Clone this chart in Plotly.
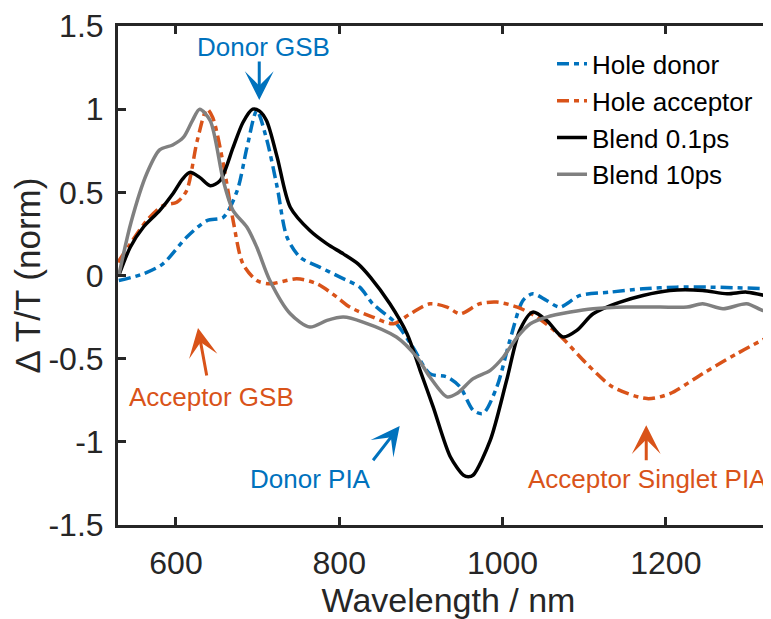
import plotly.graph_objects as go

# ---------------- data ----------------
donor_wl = [530, 560, 584, 613, 638, 658, 675, 687, 699, 711, 724, 736, 752, 776, 801, 825, 841,
            870, 890, 911, 932, 948, 964, 976, 993, 1009, 1025, 1037, 1054, 1070, 1095, 1132,
            1172, 1213, 1254, 1329]
donor_val = [-0.03, 0.01, 0.07, 0.23, 0.33, 0.35, 0.51, 0.77, 0.99, 0.82, 0.53, 0.23, 0.11, 0.05,
             -0.01, -0.07, -0.17, -0.29, -0.43, -0.59, -0.61, -0.67, -0.81, -0.83, -0.67, -0.39,
             -0.15, -0.11, -0.15, -0.19, -0.12, -0.10, -0.08, -0.07, -0.07, -0.08]

acc_wl = [529, 544, 564, 584, 601, 613, 626, 638, 645, 658, 670, 682, 699, 715, 748, 773, 797, 813,
          841, 866, 887, 911, 932, 948, 972, 993, 1018, 1042, 1070, 1103, 1135, 1177, 1205, 1245,
          1287, 1329]
acc_val = [0.08, 0.19, 0.33, 0.42, 0.44, 0.51, 0.81, 1.0, 0.95, 0.67, 0.33, 0.07, -0.03, -0.05,
           -0.02, -0.05, -0.13, -0.19, -0.25, -0.29, -0.23, -0.17, -0.19, -0.23, -0.17, -0.16,
           -0.19, -0.25, -0.36, -0.53, -0.67, -0.74, -0.71, -0.59, -0.47, -0.36]

b01_wl = [530, 544, 560, 580, 596, 608, 617, 629, 642, 654, 670, 682, 694, 702, 711, 724, 740, 764,
          785, 805, 823, 838, 862, 883, 899, 915, 936, 952, 958, 964, 985, 1005, 1021, 1037, 1054,
          1074, 1091, 1111, 1144, 1172, 1205, 1245, 1275, 1299, 1329]
b01_val = [0.0, 0.17, 0.29, 0.39, 0.49, 0.58, 0.62, 0.59, 0.54, 0.57, 0.77, 0.92, 1.0, 0.99, 0.93,
           0.71, 0.41, 0.27, 0.19, 0.13, 0.07, -0.01, -0.17, -0.35, -0.57, -0.79, -1.09, -1.20,
           -1.21, -1.20, -0.99, -0.63, -0.33, -0.22, -0.27, -0.37, -0.33, -0.23, -0.16, -0.12,
           -0.09, -0.09, -0.11, -0.10, -0.13]

b10_wl = [530, 545, 564, 580, 596, 609, 620, 629, 642, 658, 670, 687, 699, 715, 740, 764, 785, 805,
          829, 870, 895, 911, 932, 944, 964, 985, 1001, 1018, 1034, 1054, 1083, 1111, 1152, 1193,
          1226, 1245, 1270, 1299, 1319, 1329]
b10_val = [0.0, 0.32, 0.61, 0.755, 0.785, 0.83, 0.93, 1.0, 0.93, 0.57, 0.39, 0.29, 0.17, -0.03,
           -0.23, -0.31, -0.27, -0.25, -0.28, -0.37, -0.49, -0.61, -0.73, -0.71, -0.62, -0.57,
           -0.49, -0.37, -0.29, -0.25, -0.22, -0.20, -0.19, -0.19, -0.19, -0.17, -0.20, -0.17,
           -0.21, -0.21]

series_names = ["Hole donor", "Hole acceptor", "Blend 0.1ps", "Blend 10ps"]

x_ticks = [600, 800, 1000, 1200]
y_ticks = [-1.5, -1, -0.5, 0, 0.5, 1, 1.5]
y_tick_text = ["-1.5", "-1", "-0.5", "0", "0.5", "1", "1.5"]

# annotation labels: text, text position, arrow tail, arrow tip
ann_labels = ["Donor GSB", "Acceptor GSB", "Donor PIA", "Acceptor Singlet PIA"]
ann_text_x = [707, 644, 765, 1177]
ann_text_y = [1.374, -0.73, -1.224, -1.224]
ann_tail_x = [702, 638, 840, 1176]
ann_tail_y = [1.296, -0.61, -1.12, -1.12]
ann_tip_x = [702, 627, 874, 1176]
ann_tip_y = [1.055, -0.316, -0.905, -0.90]

BLUE = "#0072BD"
ORANGE = "#D95319"
ann_colors = [BLUE, ORANGE, BLUE, ORANGE]

FONT = "Liberation Sans, Arial, Helvetica, sans-serif"
AXC = "#262626"

fig = go.Figure()
dash_dd = "12px,5px,5px,5px"
fig.add_trace(go.Scatter(x=donor_wl, y=donor_val, name=series_names[0], mode="lines",
                         line=dict(color=BLUE, width=3.5, dash=dash_dd, shape="spline", smoothing=0.8)))
fig.add_trace(go.Scatter(x=acc_wl, y=acc_val, name=series_names[1], mode="lines",
                         line=dict(color=ORANGE, width=3.5, dash=dash_dd, shape="spline", smoothing=0.8)))
fig.add_trace(go.Scatter(x=b01_wl, y=b01_val, name=series_names[2], mode="lines",
                         line=dict(color="#000000", width=3.5, shape="spline", smoothing=0.8)))
fig.add_trace(go.Scatter(x=b10_wl, y=b10_val, name=series_names[3], mode="lines",
                         line=dict(color="#808080", width=3.5, shape="spline", smoothing=0.8)))

annotations = []
for i, lab in enumerate(ann_labels):
    annotations.append(dict(x=ann_text_x[i], y=ann_text_y[i], xref="x", yref="y", text=lab,
                            showarrow=False, font=dict(family=FONT, size=26, color=ann_colors[i]),
                            xanchor="center", yanchor="middle"))
    annotations.append(dict(x=ann_tip_x[i], y=ann_tip_y[i], xref="x", yref="y",
                            ax=ann_tail_x[i], ay=ann_tail_y[i], axref="x", ayref="y",
                            text="", showarrow=True, arrowhead=3, arrowsize=1.6, arrowwidth=3,
                            arrowcolor=ann_colors[i]))

fig.update_layout(
    width=771, height=619,
    margin=dict(l=110, r=0, t=18, b=102),
    paper_bgcolor="white", plot_bgcolor="white",
    font=dict(family=FONT, size=32, color=AXC),
    showlegend=True,
    legend=dict(x=0.6566, y=0.971, xanchor="left", yanchor="top", bgcolor="rgba(0,0,0,0)",
                font=dict(family=FONT, size=26, color="#000000"), borderwidth=0),
    annotations=annotations,
    xaxis=dict(range=[529, 1338.6], tickvals=x_ticks, ticks="inside", ticklen=8, tickwidth=2.5,
               tickcolor=AXC, showline=True, linecolor=AXC, linewidth=3, mirror="ticks",
               showgrid=False, zeroline=False, ticklabelstandoff=8,
               tickfont=dict(family=FONT, size=32, color=AXC),
               title=dict(text="Wavelength / nm", font=dict(family=FONT, size=34, color=AXC),
                          standoff=0)),
    yaxis=dict(range=[-1.5, 1.5], tickvals=y_ticks, ticktext=y_tick_text, ticks="inside",
               ticklen=8, tickwidth=2.5, tickcolor=AXC, showline=True, linecolor=AXC, linewidth=3,
               mirror=False, showgrid=False, zeroline=False, ticklabelstandoff=5,
               tickfont=dict(family=FONT, size=32, color=AXC),
               title=dict(text="Δ T/T (norm)", font=dict(family=FONT, size=35, color=AXC),
                          standoff=2)),
)

fig.write_html("out.html")
